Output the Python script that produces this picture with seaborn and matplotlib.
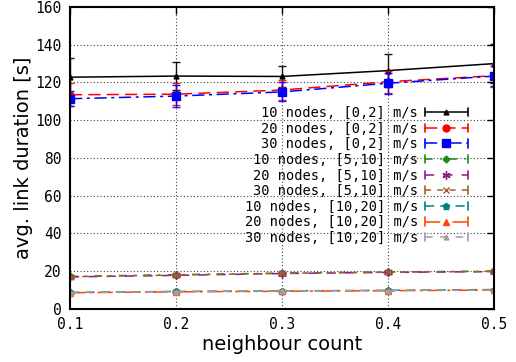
import matplotlib
matplotlib.use("Agg")
import matplotlib.pyplot as plt
import seaborn as sns
from matplotlib.legend_handler import HandlerLine2D
from matplotlib.lines import Line2D

sns.set_theme(style="white", rc={"text.color": "black", "axes.labelcolor": "black",
                                 "xtick.color": "black", "ytick.color": "black"})

x = [0.1, 0.2, 0.3, 0.4, 0.5]

labels = [
    "10 nodes, [0,2] m/s", "20 nodes, [0,2] m/s", "30 nodes, [0,2] m/s",
    "10 nodes, [5,10] m/s", "20 nodes, [5,10] m/s", "30 nodes, [5,10] m/s",
    "10 nodes, [10,20] m/s", "20 nodes, [10,20] m/s", "30 nodes, [10,20] m/s",
]

n10_slow = [122.8, 123.4, 123.2, 126.3, 130.0]
n20_slow = [113.5, 113.8, 116.0, 120.4, 123.6]
n30_slow = [111.4, 112.8, 115.0, 119.6, 123.4]
n10_mid = [17.3, 18.2, 19.0, 19.6, 20.1]
n20_mid = [17.0, 17.8, 18.8, 19.4, 19.8]
n30_mid = [17.1, 18.0, 18.9, 19.5, 19.9]
n10_fast = [8.8, 9.3, 9.6, 9.9, 10.3]
n20_fast = [8.6, 9.1, 9.4, 9.7, 10.0]
n30_fast = [8.7, 9.2, 9.5, 9.8, 10.1]

err10_slow = [10.2, 7.2, 5.7, 8.7, 10.2]
err20_slow = [6.0, 5.8, 5.3, 5.9, 6.2]
err30_slow = [4.0, 6.0, 5.0, 5.6, 5.5]
err_mid = [0.6, 0.6, 0.6, 0.6, 0.6]
err_fast = [0.4, 0.4, 0.4, 0.4, 0.4]

series = [n10_slow, n20_slow, n30_slow, n10_mid, n20_mid, n30_mid, n10_fast, n20_fast, n30_fast]
errors = [err10_slow, err20_slow, err30_slow, err_mid, err_mid, err_mid, err_fast, err_fast, err_fast]

colors = ["black", "#ff0000", "#0000ff", "#1a8c1a", "#8b1a8b", "#a0602d", "#008080", "#ff4500", "#a0a0a0"]
markers = ["^", "o", "s", "D", (6, 2, 0), "x", "p", "^", "^"]
msizes = [3.5, 5, 6, 3.5, 6, 5, 4.5, 4.5, 3.5]
styles = ["-", (0, (8, 4)), (0, (8, 3, 2, 3)), (0, (5, 5, 1, 5)), (0, (6, 6)),
          (0, (4, 4)), (0, (6, 4)), (0, (10, 3, 2, 3)), (0, (5, 5))]


class CappedHandler(HandlerLine2D):
    def create_artists(self, legend, orig_handle, xdescent, ydescent, width, height, fontsize, trans):
        artists = super().create_artists(legend, orig_handle, xdescent, ydescent, width, height, fontsize, trans)
        y = height / 2 - ydescent
        for xx in (-xdescent, -xdescent + width):
            cap = Line2D([xx, xx], [y - 3, y + 3], color=orig_handle.get_color(), lw=1.2, transform=trans)
            artists.append(cap)
        return artists


fig = plt.figure(figsize=(5.16, 3.62), dpi=100)
ax = fig.add_axes([0.1357, 0.1464, 0.8217, 0.8343])

handles = []
for vals, err, c, m, ms, ls, lab in zip(series, errors, colors, markers, msizes, styles, labels):
    ax.errorbar(x, vals, yerr=err, fmt="none", ecolor=c, elinewidth=1, capsize=3, alpha=0.9)
    sns.lineplot(x=x, y=vals, ax=ax, color=c, marker=m, markersize=ms, linestyle=ls,
                 linewidth=1.1, markeredgecolor=c, markeredgewidth=1, label=lab, legend=False)
    handles.append(ax.lines[-1])

ax.set_xlim(0.1, 0.5)
ax.set_ylim(0, 160)
ax.set_xticks(x)
ax.set_yticks(range(0, 161, 20))
ax.grid(True, color="#444444", linestyle=(0, (1, 2)), linewidth=0.8)
ax.tick_params(direction="in", top=True, right=True, length=5, width=1, color="black",
               labelcolor="black", labelsize=10.5, pad=6)
for lab in ax.get_xticklabels() + ax.get_yticklabels():
    lab.set_fontfamily("DejaVu Sans Mono")
for sp in ax.spines.values():
    sp.set_color("black")
    sp.set_linewidth(1.5)

ax.set_xlabel("neighbour count", fontsize=14, labelpad=2, color="black")
ax.set_ylabel("avg. link duration [s]", fontsize=14, labelpad=2, color="black")

ax.legend(handles=handles, labels=labels, loc="upper right", bbox_to_anchor=(0.955, 0.695),
          frameon=False, markerfirst=False, handlelength=3.2, handletextpad=0.5,
          labelspacing=0.12, borderpad=0, numpoints=1, labelcolor="black",
          prop={"family": "DejaVu Sans Mono", "size": 9.8},
          handler_map={Line2D: CappedHandler()})

fig.savefig("out.png", dpi=100)
